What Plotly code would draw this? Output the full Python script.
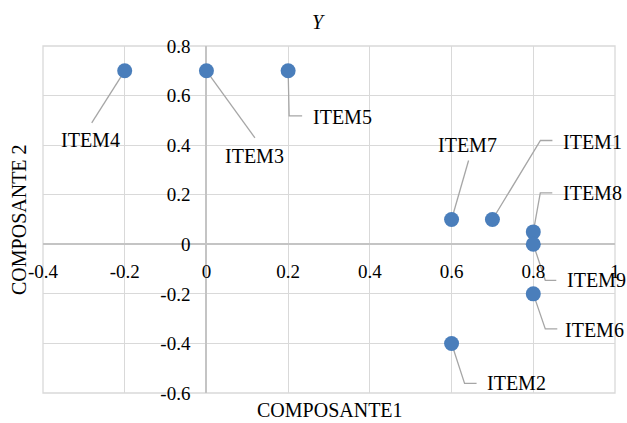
import plotly.graph_objects as go

items = ["ITEM1", "ITEM2", "ITEM3", "ITEM4", "ITEM5", "ITEM6", "ITEM7", "ITEM8", "ITEM9"]
comp1 = [0.7, 0.6, 0.0, -0.2, 0.2, 0.8, 0.6, 0.8, 0.8]
comp2 = [0.1, -0.4, 0.7, 0.7, 0.7, -0.2, 0.1, 0.05, 0.0]

x_ticks = [-0.4, -0.2, 0, 0.2, 0.4, 0.6, 0.8, 1]
x_ticktext = ["-0.4", "-0.2", "0", "0.2", "0.4", "0.6", "0.8", "1"]
y_ticks = [-0.6, -0.4, -0.2, 0, 0.2, 0.4, 0.6, 0.8]
y_ticktext = ["-0.6", "-0.4", "-0.2", "0", "0.2", "0.4", "0.6", "0.8"]

# leader line pixel offsets from marker (dx right, dy down) and label placement
leaders = {
    "ITEM1": ([(48, -79), (60, -79)], (69, -78), "left"),
    "ITEM2": ([(13, 40), (25, 40)], (33, 40), "left"),
    "ITEM3": ([(48.5, 67)], (48, 85), "center"),
    "ITEM4": ([(-33, 52)], (-34, 69), "center"),
    "ITEM5": ([(1, 45), (14, 45)], (23, 46), "left"),
    "ITEM6": ([(12, 35), (24, 35)], (30, 36), "left"),
    "ITEM7": ([(17, -59)], (16, -75), "center"),
    "ITEM8": ([(7, -39), (19, -39)], (28, -39), "left"),
    "ITEM9": ([(12, 36), (23, 36)], (32, 36), "left"),
}

W, H = 627, 423
ml, mr, mt, mb = 43, 12, 46, 30
xr = [-0.4, 1.0]
yr = [-0.6, 0.8]
pxx = (W - ml - mr) / (xr[1] - xr[0])
pxy = (H - mt - mb) / (yr[1] - yr[0])

FONT = "Liberation Serif"
fig = go.Figure()

for name, x, y in zip(items, comp1, comp2):
    pts, lab, anchor = leaders[name]
    lx = [x] + [x + dx / pxx for dx, dy in pts]
    ly = [y] + [y - dy / pxy for dx, dy in pts]
    fig.add_trace(go.Scatter(x=lx, y=ly, mode="lines",
                             line=dict(color="#a6a6a6", width=1.3),
                             hoverinfo="skip", showlegend=False))
    fig.add_annotation(x=x, y=y, xref="x", yref="y", text=name, showarrow=False,
                       xshift=lab[0], yshift=-lab[1], xanchor=anchor, yanchor="middle",
                       font=dict(family=FONT, size=20, color="#000000"))

fig.add_trace(go.Scatter(x=comp1, y=comp2, mode="markers", text=items,
                         marker=dict(color="#4a7ebb", size=15), showlegend=False))

fig.add_annotation(x=(318 - ml) / (W - ml - mr), y=1 + (mt - 22) / (H - mt - mb),
                   xref="paper", yref="paper", text="<i>Y</i>", showarrow=False,
                   yanchor="middle",
                   font=dict(family=FONT, size=20, color="#000000"))
fig.add_annotation(x=(330 - ml) / (W - ml - mr), y=-(410 - (H - mb)) / (H - mt - mb),
                   xref="paper", yref="paper",
                   text="COMPOSANTE1", showarrow=False, yanchor="middle",
                   font=dict(family=FONT, size=20, color="#000000"))
fig.add_annotation(x=-(ml - 19) / (W - ml - mr), y=(H - mb - 220) / (H - mt - mb),
                   xref="paper", yref="paper", text="COMPOSANTE 2", showarrow=False,
                   textangle=-90, xanchor="center", yanchor="middle",
                   font=dict(family=FONT, size=20, color="#000000"))

fig.add_shape(type="rect", xref="paper", yref="paper", x0=0, y0=0, x1=1, y1=1,
              line=dict(color="#d9d9d9", width=1.3), layer="below")

fig.update_layout(
    width=W, height=H,
    margin=dict(l=ml, r=mr, t=mt, b=mb, autoexpand=False),
    plot_bgcolor="white", paper_bgcolor="white",
    font=dict(family=FONT, size=19, color="#000000"),
    xaxis=dict(range=xr, tickvals=x_ticks, ticktext=x_ticktext,
               showgrid=True, gridcolor="#d9d9d9", gridwidth=1.3,
               zeroline=True, zerolinecolor="#c4c4c4", zerolinewidth=1.8,
               showline=False, ticks="", anchor="free", automargin=False,
               position=(0 - yr[0]) / (yr[1] - yr[0]), ticklabelstandoff=14,
               tickfont=dict(family=FONT, size=19)),
    yaxis=dict(range=yr, tickvals=y_ticks, ticktext=y_ticktext,
               showgrid=True, gridcolor="#d9d9d9", gridwidth=1.3,
               zeroline=True, zerolinecolor="#c4c4c4", zerolinewidth=1.8,
               showline=False, ticks="", anchor="free", automargin=False,
               position=(0 - xr[0]) / (xr[1] - xr[0]), ticklabelstandoff=16,
               tickfont=dict(family=FONT, size=19)),
)

fig.write_html("out.html", config={"displayModeBar": False},
               post_script="document.body.style.margin='0';")
